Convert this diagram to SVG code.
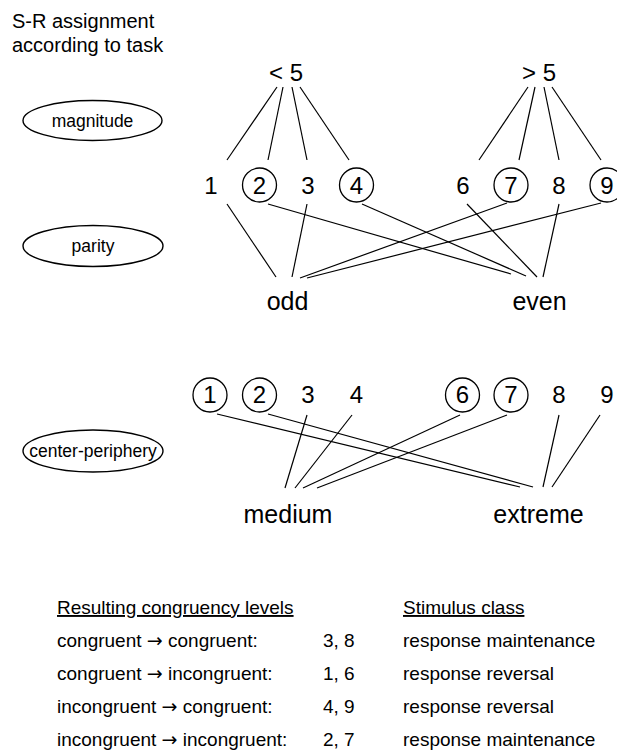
<svg xmlns="http://www.w3.org/2000/svg" width="617" height="753" viewBox="0 0 617 753">
<style>
text{font-family:"Liberation Sans",Arial,sans-serif;fill:#000}
.t{font-size:20px}
.d{font-size:24px;text-anchor:middle}
.l{font-size:25px;text-anchor:middle}
.e{font-size:17.5px;text-anchor:middle}
.tb{font-size:19px}
.ar{font-family:"DejaVu Sans",sans-serif;font-size:19px}
.u{text-decoration:underline}
.c{fill:none;stroke:#000;stroke-width:1.3}
.ov{fill:#fff;stroke:#000;stroke-width:1.4}
#connectors line{stroke:#000;stroke-width:1.2}
</style>
<rect width="617" height="753" fill="#fff"/>
<g id="title">
<text class="t" x="12" y="28">S-R assignment</text>
<text class="t" x="12" y="52">according to task</text>
</g>
<g id="task-magnitude"><ellipse class="ov" cx="92.5" cy="120.5" rx="69.5" ry="20"/><text class="e" x="92.5" y="127">magnitude</text></g>
<g id="task-parity"><ellipse class="ov" cx="93" cy="246" rx="70" ry="20.5"/><text class="e" x="93" y="252">parity</text></g>
<g id="task-center-periphery"><ellipse class="ov" cx="93" cy="451" rx="70" ry="21"/><text class="e" x="93" y="457">center-periphery</text></g>
<g id="lt5"><text class="d" x="286" y="81">&lt; 5</text></g>
<g id="gt5"><text class="d" x="539" y="81">&gt; 5</text></g>
<g id="row1">
<g id="r1-1"><text class="d" x="211" y="194">1</text></g>
<g id="r1-2"><circle class="c" cx="259.5" cy="185" r="17"/><text class="d" x="259.5" y="194">2</text></g>
<g id="r1-3"><text class="d" x="308" y="194">3</text></g>
<g id="r1-4"><circle class="c" cx="356.5" cy="185" r="17"/><text class="d" x="356.5" y="194">4</text></g>
<g id="r1-6"><text class="d" x="463" y="194">6</text></g>
<g id="r1-7"><circle class="c" cx="511" cy="185" r="17"/><text class="d" x="511" y="194">7</text></g>
<g id="r1-8"><text class="d" x="559" y="194">8</text></g>
<g id="r1-9"><circle class="c" cx="607" cy="185" r="17"/><text class="d" x="607" y="194">9</text></g>
</g>
<g id="odd"><text class="l" x="287.5" y="310">odd</text></g>
<g id="even"><text class="l" x="539.5" y="310">even</text></g>
<g id="row2">
<g id="r2-1"><circle class="c" cx="210" cy="395" r="17"/><text class="d" x="210" y="403">1</text></g>
<g id="r2-2"><circle class="c" cx="259.5" cy="395" r="17"/><text class="d" x="259.5" y="403">2</text></g>
<g id="r2-3"><text class="d" x="308" y="403">3</text></g>
<g id="r2-4"><text class="d" x="356.5" y="403">4</text></g>
<g id="r2-6"><circle class="c" cx="462.5" cy="395" r="17"/><text class="d" x="462.5" y="403">6</text></g>
<g id="r2-7"><circle class="c" cx="511" cy="395" r="17"/><text class="d" x="511" y="403">7</text></g>
<g id="r2-8"><text class="d" x="559" y="403">8</text></g>
<g id="r2-9"><text class="d" x="607" y="403">9</text></g>
</g>
<g id="medium"><text class="l" x="288" y="523">medium</text></g>
<g id="extreme"><text class="l" x="538.5" y="523">extreme</text></g>
<g id="connectors">
<line x1="277" y1="87" x2="227" y2="160"/>
<line x1="283" y1="87" x2="268" y2="160"/>
<line x1="292" y1="87" x2="307" y2="160"/>
<line x1="300" y1="87" x2="349" y2="160"/>
<line x1="528" y1="87" x2="479" y2="160"/>
<line x1="535" y1="87" x2="519" y2="160"/>
<line x1="544" y1="87" x2="559" y2="160"/>
<line x1="552" y1="87" x2="601" y2="160"/>
<line x1="227" y1="204" x2="276" y2="277"/>
<line x1="307" y1="204" x2="292" y2="277"/>
<line x1="507" y1="203" x2="300" y2="278"/>
<line x1="601" y1="203" x2="307" y2="278"/>
<line x1="268" y1="204" x2="511" y2="274"/>
<line x1="362" y1="204" x2="526" y2="276"/>
<line x1="467" y1="204" x2="537" y2="277"/>
<line x1="559" y1="204" x2="543" y2="277"/>
<line x1="217" y1="414" x2="520" y2="487"/>
<line x1="268" y1="414" x2="533" y2="487"/>
<line x1="307" y1="415" x2="285" y2="488"/>
<line x1="352" y1="415" x2="295" y2="488"/>
<line x1="460" y1="415" x2="303" y2="488"/>
<line x1="507" y1="415" x2="317" y2="488"/>
<line x1="559" y1="415" x2="543" y2="487"/>
<line x1="600" y1="415" x2="552" y2="487"/>
</g>
<g id="table">
<text class="tb u" x="57" y="614">Resulting congruency levels</text>
<text class="tb u" x="403" y="614">Stimulus class</text>
<text class="tb" x="57" y="647">congruent <tspan class="ar">→</tspan> congruent:</text>
<text class="tb" x="323" y="647">3, 8</text>
<text class="tb" x="403" y="647">response maintenance</text>
<text class="tb" x="57" y="680">congruent <tspan class="ar">→</tspan> incongruent:</text>
<text class="tb" x="323" y="680">1, 6</text>
<text class="tb" x="403" y="680">response reversal</text>
<text class="tb" x="57" y="713">incongruent <tspan class="ar">→</tspan> congruent:</text>
<text class="tb" x="323" y="713">4, 9</text>
<text class="tb" x="403" y="713">response reversal</text>
<text class="tb" x="57" y="746">incongruent <tspan class="ar">→</tspan> incongruent:</text>
<text class="tb" x="323" y="746">2, 7</text>
<text class="tb" x="403" y="746">response maintenance</text>
</g>
</svg>
